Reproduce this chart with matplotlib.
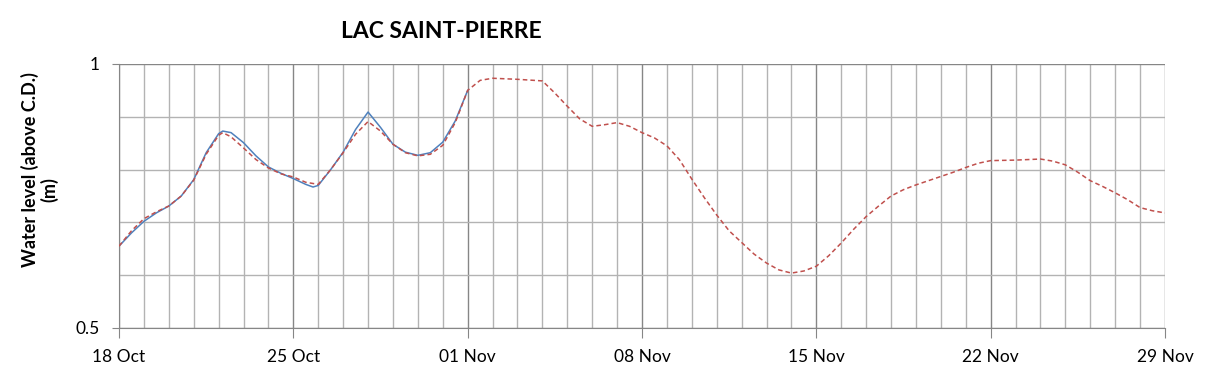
import numpy as np
import matplotlib
matplotlib.use("Agg")
import matplotlib.pyplot as plt
import matplotlib.dates as mdates
from matplotlib.ticker import FixedLocator

# days since 18 Oct, water level (m above C.D.)
obs_day = [0, 0.5, 1, 1.5, 2, 2.5, 3, 3.5, 4, 4.2, 4.5, 5, 5.5, 6, 6.5, 7, 7.5, 7.8,
           8, 8.5, 9, 9.5, 10, 10.5, 11, 11.5, 12, 12.5, 13, 13.5, 14]
obs_lvl = [0.655, 0.680, 0.702, 0.718, 0.731, 0.750, 0.781, 0.832, 0.868, 0.873,
           0.870, 0.851, 0.826, 0.805, 0.793, 0.783, 0.772, 0.767,
           0.770, 0.800, 0.833, 0.876, 0.909, 0.880, 0.848, 0.833, 0.827, 0.832,
           0.852, 0.892, 0.950]

fc_day = [0, 0.5, 1, 1.5, 2, 2.5, 3, 3.5, 4, 4.2, 4.5, 5, 5.5, 6, 6.5, 7, 7.5,
          8, 8.5, 9, 9.5, 10, 10.5, 11, 11.5, 12, 12.5, 13, 13.5, 14, 14.5,
          15, 16, 17, 17.5, 18, 18.5, 19, 19.5, 20, 20.5, 21, 21.5, 22, 22.5,
          23, 23.5, 24, 24.5, 25, 25.5, 26, 26.5, 27, 27.5, 28, 28.5, 29, 29.5,
          30, 30.5, 31, 31.5, 32, 32.5, 33, 33.5, 34, 34.5, 35, 36, 37, 37.5,
          38, 38.5, 39, 39.5, 40, 40.5, 41, 41.5, 42]
fc_lvl = [0.655, 0.684, 0.707, 0.720, 0.731, 0.750, 0.780, 0.829, 0.865, 0.870,
          0.862, 0.841, 0.819, 0.803, 0.792, 0.786, 0.776,
          0.772, 0.800, 0.832, 0.867, 0.891, 0.873, 0.848, 0.832, 0.826, 0.829,
          0.846, 0.889, 0.950, 0.969,
          0.973, 0.971, 0.968, 0.945, 0.920, 0.896, 0.882, 0.885, 0.889, 0.882,
          0.870, 0.860, 0.845, 0.819,
          0.782, 0.747, 0.714, 0.684, 0.662, 0.640, 0.623, 0.610, 0.604, 0.608,
          0.617, 0.637, 0.661, 0.687,
          0.711, 0.731, 0.750, 0.762, 0.771, 0.779, 0.787, 0.795, 0.804, 0.812,
          0.817, 0.818, 0.820, 0.816,
          0.809, 0.795, 0.779, 0.768, 0.756, 0.743, 0.728, 0.722, 0.718]

start = np.datetime64("2012-10-18")
obs_t = start + (np.array(obs_day) * 24).astype("timedelta64[h]")
fc_t = start + (np.array(fc_day) * 24).astype("timedelta64[h]")

plt.rcParams["font.family"] = ["Lato", "DejaVu Sans"]

fig = plt.figure(figsize=(12.09, 3.78), dpi=100)
ax = fig.add_axes([119 / 1209, 1 - 328 / 378, (1165 - 119) / 1209, (328 - 64) / 378])

days = start + np.arange(0, 43).astype("timedelta64[D]")
weeks = start + np.arange(0, 43, 7).astype("timedelta64[D]")
ax.set_xlim(mdates.date2num(days[0]), mdates.date2num(days[-1]))
ax.set_ylim(0.5, 1.0)

ax.xaxis.set_major_locator(FixedLocator(mdates.date2num(weeks)))
ax.xaxis.set_minor_locator(FixedLocator(mdates.date2num(days)))
ax.xaxis.set_major_formatter(mdates.DateFormatter("%d %b"))
ax.set_yticks([0.5, 1.0])
ax.set_yticklabels(["0.5", "1"])
ax.set_yticks([0.6, 0.7, 0.8, 0.9], minor=True)

ax.grid(which="minor", axis="both", color="#b3b3b3", lw=1.0)
ax.grid(which="major", axis="both", color="#868686", lw=1.0)
ax.set_axisbelow(True)

for s in ["left", "bottom"]:
    ax.spines[s].set_color("#868686")
for s in ["top", "right"]:
    ax.spines[s].set_visible(False)

ax.tick_params(axis="x", which="major", direction="out", length=7, color="#868686",
               labelsize=12.5, pad=8)
ax.tick_params(axis="x", which="minor", length=0)
ax.tick_params(axis="y", which="major", direction="out", length=5, color="#868686",
               labelsize=12.5, pad=9)
ax.tick_params(axis="y", which="minor", length=0)

ax.plot(fc_t, fc_lvl, color="#c0504d", lw=1.1, ls=(0, (3, 2)), zorder=3)
ax.plot(obs_t, obs_lvl, color="#4f81bd", lw=1.1, zorder=2)

fig.text(441 / 1209, 1 - 31 / 378, "LAC SAINT-PIERRE", ha="center", va="center",
         fontsize=16.5, fontweight="bold")
fig.text(30 / 1209, 1 - 170 / 378, "Water level (above C.D.)", ha="center",
         va="center", rotation=90, fontsize=13, fontweight="bold")
fig.text(49 / 1209, 1 - 190 / 378, "(m)", ha="center",
         va="center", rotation=90, fontsize=13, fontweight="bold")

fig.savefig("out.png", dpi=100)
